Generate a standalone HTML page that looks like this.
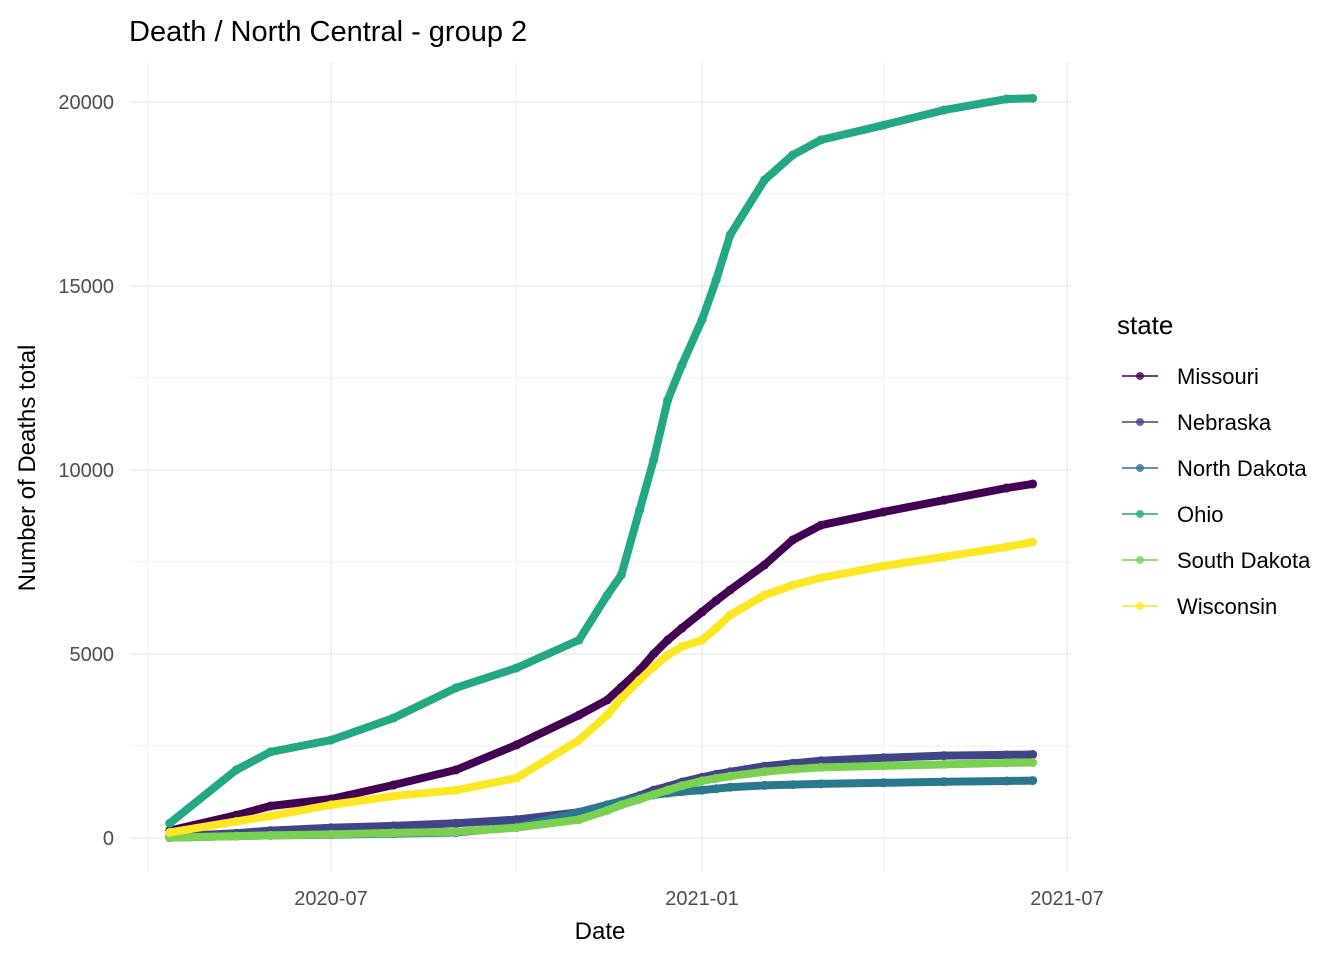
<!DOCTYPE html>
<html><head><meta charset="utf-8"><style>
body{margin:0;background:#fff;font-family:"Liberation Sans",Arial,sans-serif}
svg text{font-family:"Liberation Sans",Arial,sans-serif}
</style></head><body>
<svg id="chart" width="1344" height="960" viewBox="0 0 1344 960">
<rect width="1344" height="960" fill="#fff"/>
<g id="grid"></g><g id="series"></g><g id="axes"></g><g id="legend"></g>
<text x="129" y="41" font-size="29" fill="#000">Death / North Central - group 2</text>
<text x="600" y="939" font-size="24" text-anchor="middle" fill="#000">Date</text>
<text transform="translate(35,468) rotate(-90)" font-size="24" text-anchor="middle" fill="#000">Number of Deaths total</text>
</svg>
<script>
const dates=["2020-04-12","2020-05-15","2020-06-01","2020-07-01","2020-08-01","2020-09-01","2020-10-01","2020-11-01","2020-11-15","2020-11-22","2020-12-01","2020-12-08","2020-12-15","2020-12-22","2021-01-01","2021-01-08","2021-01-15","2021-02-01","2021-02-15","2021-03-01","2021-04-01","2021-05-01","2021-06-01","2021-06-14"];
const states=["Missouri","Nebraska","North Dakota","Ohio","South Dakota","Wisconsin"];
const missouri=[200,620,870,1060,1440,1850,2530,3340,3750,4100,4560,5000,5380,5700,6140,6450,6740,7420,8100,8500,8860,9180,9510,9620];
const nebraska=[40,130,200,280,330,400,500,700,900,1000,1150,1300,1400,1520,1650,1730,1800,1950,2030,2100,2180,2240,2260,2270];
const northDakota=[10,50,70,90,120,150,300,700,900,1000,1100,1170,1220,1260,1300,1340,1380,1430,1450,1470,1500,1530,1550,1560];
const ohio=[400,1850,2340,2660,3260,4080,4620,5380,6600,7150,8900,10270,11900,12850,14080,15160,16390,17880,18560,18970,19370,19780,20080,20100];
const southDakota=[10,50,70,100,140,170,280,500,750,900,1050,1180,1300,1420,1550,1620,1680,1800,1870,1920,1960,2000,2040,2050];
const wisconsin=[150,450,600,900,1140,1300,1630,2660,3340,3800,4290,4650,4970,5200,5380,5700,6060,6600,6870,7070,7390,7640,7910,8040];
const colors=["#440154","#414487","#2A788E","#22A884","#7AD151","#FDE725"];
const seriesVals=[missouri,nebraska,northDakota,ohio,southDakota,wisconsin];
const yTicks=[0,5000,10000,15000,20000];
const yMinor=[2500,7500,12500,17500];
const xTicks=["2020-07-01","2021-01-01","2021-07-01"];
const xTickLabels=["2020-07","2021-01","2021-07"];
const xMinor=["2020-04-01","2020-10-01","2021-04-01"];

const NS="http://www.w3.org/2000/svg";
const d0=Date.parse("2020-07-01"),d1=Date.parse("2021-01-01");
function xs(d){return 331+(Date.parse(d)-d0)/(d1-d0)*371;}
function ys(v){return 838-v*0.0368;}
function mk(tag,attrs,parent){const e=document.createElementNS(NS,tag);for(const k in attrs)e.setAttribute(k,attrs[k]);parent.appendChild(e);return e;}
const grid=document.getElementById('grid'),axes=document.getElementById('axes'),ser=document.getElementById('series'),leg=document.getElementById('legend');
yMinor.forEach(v=>{const l=mk('line',{x1:130,x2:1072,y1:ys(v),y2:ys(v),stroke:'#f2f2f2','stroke-width':1},grid);

});
xMinor.forEach(d=>{const l=mk('line',{x1:xs(d),x2:xs(d),y1:62,y2:872,stroke:'#f2f2f2','stroke-width':1},grid);

});
yTicks.forEach(v=>{const l=mk('line',{x1:130,x2:1072,y1:ys(v),y2:ys(v),stroke:'#ebebeb','stroke-width':1.5},grid);


const t=mk('text',{x:114,y:ys(v)+7,'font-size':20,'text-anchor':'end',fill:'#4d4d4d'},axes);t.textContent=v;

});
xTicks.forEach((d,i)=>{const l=mk('line',{x1:xs(d),x2:xs(d),y1:62,y2:872,stroke:'#ebebeb','stroke-width':1.5},grid);


const t=mk('text',{x:xs(d),y:905,'font-size':20,'text-anchor':'middle',fill:'#4d4d4d'},axes);t.textContent=xTickLabels[i];

});
seriesVals.forEach((vals,i)=>{const g=mk('g',{},ser);


const pts=vals.map((v,j)=>xs(dates[j])+','+ys(v)).join(' ');
const p=mk('polyline',{points:pts,fill:'none',stroke:colors[i],'stroke-width':8,'stroke-linejoin':'round','stroke-linecap':'round'},g);


vals.forEach((v,j)=>{const c=mk('circle',{cx:xs(dates[j]),cy:ys(v),r:4.5,fill:colors[i]},g);

});});
const lt=mk('text',{x:1117,y:334,'font-size':26,fill:'#000'},leg);lt.textContent='state';


states.forEach((s,i)=>{const y=376+i*46;const g=mk('g',{},leg);


mk('line',{x1:1122,x2:1158,y1:y,y2:y,stroke:colors[i],'stroke-width':1.5},g);
mk('circle',{cx:1140,cy:y,r:4,fill:colors[i],'fill-opacity':0.8},g);
const t=mk('text',{x:1177,y:y+8,'font-size':22,fill:'#000'},g);t.textContent=s;});
</script>
</body></html>
